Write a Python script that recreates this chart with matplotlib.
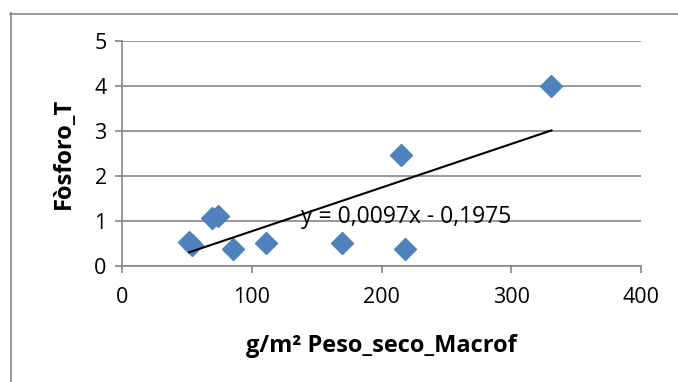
import matplotlib
matplotlib.use("Agg")
import matplotlib.pyplot as plt
from matplotlib.lines import Line2D
import numpy as np

# Data
peso_seco = [51.8, 53.6, 69.0, 74.1, 85.6, 110.8, 169.5, 215.4, 218.2, 331.0]
fosforo = [0.54, 0.47, 1.07, 1.11, 0.37, 0.52, 0.52, 2.47, 0.37, 4.00]
trend_slope = 0.0097
trend_intercept = -0.1975
equation_label = "y = 0,0097x - 0,1975"
x_ticks = [0, 100, 200, 300, 400]
y_ticks = [0, 1, 2, 3, 4, 5]
x_label = "g/m² Peso_seco_Macrof"
y_label = "Fòsforo_T"

plt.rcParams['font.family'] = ['Open Sans', 'DejaVu Sans']

W, H = 678, 382
fig = plt.figure(figsize=(W / 100, H / 100), dpi=100)
fig.patch.set_facecolor("white")

left, right, top, bottom = 122, 641, 41, 266
ax = fig.add_axes([left / W, 1 - bottom / H, (right - left) / W, (bottom - top) / H])

grid_col = "#868686"
ax.set_xlim(0, 400)
ax.set_ylim(0, 5)
ax.set_xticks(x_ticks)
ax.set_yticks(y_ticks)
ax.yaxis.grid(True, color=grid_col, linewidth=1.2)
ax.set_axisbelow(True)
for s in ["top", "right"]:
    ax.spines[s].set_visible(False)
for s in ["left", "bottom"]:
    ax.spines[s].set_color(grid_col)
    ax.spines[s].set_linewidth(1.2)
ax.tick_params(axis="both", direction="out", length=5, width=1.2, color=grid_col,
               labelsize=15.5, labelcolor="black")
ax.tick_params(axis="x", pad=10)
ax.tick_params(axis="y", pad=6)

ax.plot(peso_seco, fosforo, linestyle="none", marker="D", markersize=11,
        color="#4F81BD", markeredgecolor="#4F81BD", zorder=3, clip_on=False)

xs = np.array([min(peso_seco), max(peso_seco)])
ax.plot(xs, trend_slope * xs + trend_intercept, color="black", linewidth=1.5, zorder=4)

ax.text(219, 0.955, equation_label, ha="center", va="baseline", fontsize=16.5,
        color="black", zorder=5)

ax.set_xlabel(x_label, fontsize=17, fontweight="bold", labelpad=19)
ax.set_ylabel(y_label, fontsize=17, fontweight="bold", labelpad=13)

# chart-area border (left and top visible)
fig.add_artist(Line2D([10.5 / W, 10.5 / W], [0, 1 - 13 / H], transform=fig.transFigure,
                      color=grid_col, linewidth=1.2))
fig.add_artist(Line2D([10 / W, 1], [1 - 13.5 / H, 1 - 13.5 / H], transform=fig.transFigure,
                      color=grid_col, linewidth=1.2))

fig.savefig("out.png", dpi=100)
